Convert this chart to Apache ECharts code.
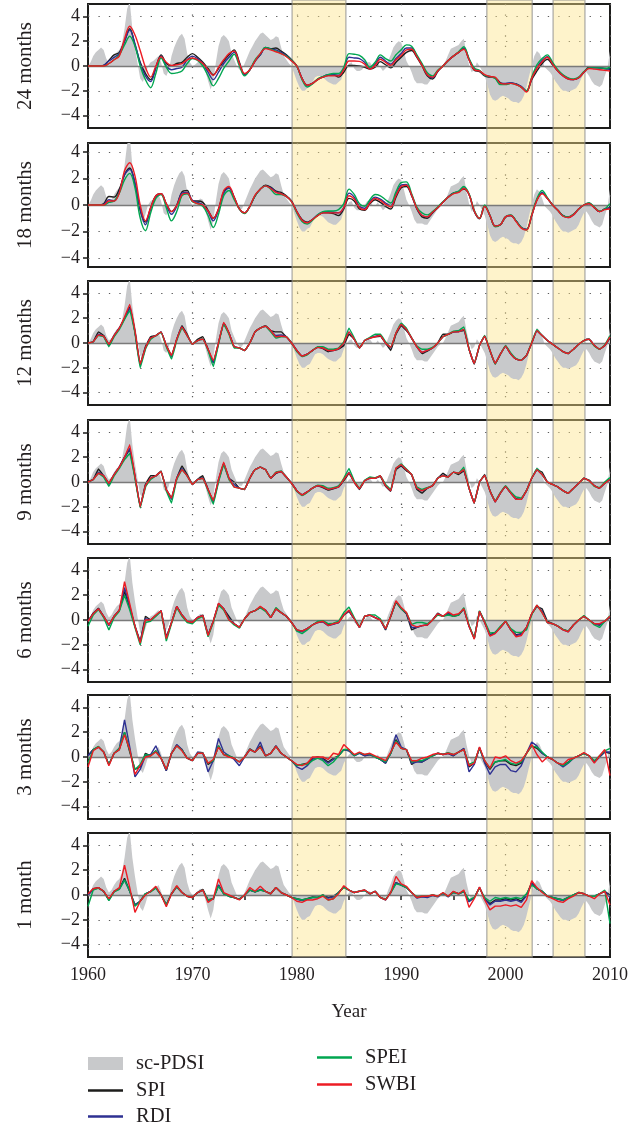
<!DOCTYPE html>
<html><head><meta charset="utf-8">
<script src="https://cdn.jsdelivr.net/npm/echarts@6/dist/echarts.min.js"></script>
<style>html,body{margin:0;padding:0;background:#fff}#c{width:643px;height:1126px}</style>
</head><body><div id="c"></div>
<script>
// ---------------- data ----------------
const START_YEAR = 1960;
const LINE_STEP = 0.5;   // lines sampled every half year
const PDSI_STEP = 0.25;  // sc-PDSI sampled every quarter year
const panelNames = ['24 months','18 months','12 months','9 months','6 months','3 months','1 month'];
const yTickValues = [-4,-2,0,2,4];
const xTickYears = [1960,1970,1980,1990,2000,2010];
const droughtBands = [[1979.55,1984.7],[1998.2,2002.55],[2004.55,2007.6]];
const seriesNames = ['SPI','RDI','SPEI','SWBI'];

const scPDSI = [
 0,0.3,0.8,1.1,1.3,1.5,1.3,0.6,0.2,0.4,0.8,1.1,1.3,1.8,3.0,4.6,5.2,3.0,1.5,0.2,
 -1.0,-1.3,-0.7,0.0,0.3,0.4,0.6,0.8,0.3,-0.6,-0.8,-0.3,0.8,1.5,2.0,2.4,2.6,2.2,1.0,0.3,
 0.0,0.1,0.3,0.5,0.4,-0.4,-1.2,-1.9,-1.2,0.3,1.6,2.3,2.5,2.3,2.0,1.0,0.5,0.0,-0.3,-0.3,
 0.2,0.7,1.2,1.6,2.0,2.3,2.6,2.7,2.5,2.3,2.1,2.2,2.4,2.3,1.5,0.8,0.5,0.2,0.0,-0.6,
 -1.2,-1.7,-2.0,-2.0,-1.8,-1.7,-1.3,-0.9,-0.8,-0.8,-0.9,-1.1,-1.3,-1.4,-1.5,-1.5,-1.3,-1.1,-0.5,-0.1,
 0.2,0.3,-0.2,-0.4,-0.4,-0.3,0.0,0.3,0.3,0.0,-0.1,0.2,-0.1,-0.4,-0.2,0.4,0.9,1.5,1.8,2.0,
 1.9,1.2,0.4,0.0,-0.5,-1.1,-1.4,-1.4,-1.4,-1.5,-1.5,-1.2,-0.9,-0.6,-0.3,-0.1,0.0,0.4,0.9,1.4,
 1.5,1.6,1.7,2.0,2.2,1.0,0.1,-0.5,-0.3,0.3,0.0,-0.4,-0.8,-1.5,-2.3,-2.7,-2.8,-2.7,-2.5,-2.4,
 -2.5,-2.6,-2.8,-2.9,-2.9,-3.0,-2.8,-2.4,-1.7,-0.8,0.0,0.8,1.2,1.0,0.5,-0.1,-0.3,-0.5,-0.8,-1.2,
 -1.5,-1.8,-2.0,-2.0,-2.1,-2.0,-1.9,-1.8,-1.5,-1.0,-0.6,-0.5,-0.8,-1.2,-1.5,-1.6,-1.7,-1.5,-0.8,-0.2,
 1.2];

// ---- 24 months ----
const spi24 = [0,0,0,0.05,0.45,0.9,1.1,2.0,3.0,1.7,
 0.3,-0.6,-1.1,-0.1,0.9,0.2,0.0,0.2,0.3,0.7,
 1.0,0.7,0.3,-0.2,-0.7,-0.2,0.4,0.9,1.3,0.3,
 -0.7,-0.3,0.4,0.9,1.5,1.4,1.45,1.2,0.9,0.5,
 0.0,-1.0,-1.55,-1.4,-1.1,-0.9,-0.75,-0.7,-0.9,-0.5,
 0.05,0.05,0.0,-0.1,-0.25,-0.1,0.35,0.1,-0.15,0.3,
 0.7,1.1,1.25,0.7,0.0,-0.8,-1.05,-0.45,0.0,0.45,
 0.8,1.1,1.4,0.5,-0.35,-0.45,-0.8,-0.9,-0.95,-1.35,
 -1.45,-1.4,-1.45,-1.7,-2.05,-1.1,-0.4,0.2,0.55,0.1,
 -0.4,-0.75,-1.0,-1.1,-0.95,-0.5,-0.1,-0.1,-0.15,-0.2,
 -0.25];
const rdi24 = [0,0,0,0.05,0.4,0.7,1.0,2.0,2.9,1.8,
 0.2,-0.8,-1.25,-0.2,0.8,0.0,-0.3,-0.2,-0.1,0.5,
 0.8,0.6,0.2,-0.5,-1.1,-0.5,0.2,0.7,1.1,0.2,
 -0.7,-0.3,0.4,0.9,1.45,1.35,1.3,1.1,0.85,0.45,
 0.0,-1.0,-1.6,-1.4,-1.05,-0.85,-0.7,-0.7,-0.75,-0.2,
 0.7,0.65,0.6,0.3,-0.2,0.15,0.7,0.4,0.15,0.6,
 1.0,1.45,1.45,0.8,0.1,-0.7,-0.95,-0.4,0.0,0.45,
 0.8,1.1,1.45,0.55,-0.25,-0.4,-0.75,-0.85,-0.95,-1.4,
 -1.4,-1.35,-1.45,-1.65,-2.0,-1.0,-0.1,0.45,0.75,0.2,
 -0.4,-0.8,-1.05,-1.1,-0.95,-0.5,-0.15,-0.15,-0.15,-0.2,
 -0.25];
const spei24 = [0,0,0,0,0.2,0.5,0.9,1.7,2.4,1.6,
 0.0,-1.1,-1.75,-0.6,0.65,-0.1,-0.6,-0.55,-0.4,0.2,
 0.6,0.45,0.0,-0.8,-1.6,-1.0,-0.2,0.4,0.95,0.0,
 -0.8,-0.3,0.5,1.0,1.5,1.35,1.2,1.0,0.8,0.45,
 0.0,-1.1,-1.7,-1.45,-1.05,-0.85,-0.7,-0.6,-0.6,-0.1,
 1.0,0.95,0.85,0.5,-0.1,0.3,0.9,0.6,0.4,0.9,
 1.3,1.7,1.6,0.9,0.2,-0.55,-0.8,-0.35,0.0,0.45,
 0.8,1.15,1.55,0.6,-0.15,-0.35,-0.75,-0.85,-1.0,-1.5,
 -1.5,-1.4,-1.5,-1.7,-2.0,-0.9,0.1,0.6,0.9,0.3,
 -0.3,-0.7,-0.95,-1.05,-0.9,-0.45,-0.15,-0.15,-0.15,-0.2,
 -0.1];
const swbi24 = [0,0,0,0,0.2,0.5,0.8,2.2,3.2,2.5,
 1.25,-0.1,-0.9,0.0,0.75,0.3,0.05,0.1,0.2,0.5,
 0.65,0.5,0.2,-0.3,-0.75,-0.1,0.5,1.0,1.2,0.2,
 -0.6,-0.3,0.4,1.0,1.4,1.3,1.15,1.0,0.75,0.4,
 0.0,-1.0,-1.55,-1.4,-1.1,-0.9,-0.8,-0.8,-0.8,-0.3,
 0.4,0.4,0.37,0.15,-0.25,0.05,0.55,0.3,0.05,0.5,
 0.85,1.3,1.35,0.75,0.05,-0.7,-0.9,-0.4,0.0,0.45,
 0.8,1.1,1.35,0.5,-0.3,-0.4,-0.7,-0.85,-0.9,-1.4,
 -1.45,-1.4,-1.5,-1.7,-2.1,-1.0,-0.2,0.35,0.7,0.15,
 -0.4,-0.8,-1.05,-1.1,-0.95,-0.5,-0.2,-0.25,-0.3,-0.35,
 -0.4];

// ---- 18 months ----
const spi18 = [0,0,0,0.1,0.65,0.6,1.2,2.3,2.8,1.6,
 -0.4,-1.3,-0.2,0.7,0.85,0.1,-0.5,0.0,1.0,1.1,
 0.3,0.3,0.2,-0.4,-1.0,-0.3,1.0,1.3,0.6,-0.3,
 -0.6,-0.1,0.7,1.2,1.5,1.35,1.05,0.95,0.7,0.3,
 -0.5,-1.1,-1.3,-1.1,-0.8,-0.6,-0.6,-0.65,-0.8,-0.3,
 0.5,0.3,-0.3,-0.4,0.1,0.4,0.2,-0.1,-0.3,0.6,
 1.3,1.4,0.7,-0.3,-0.9,-1.0,-0.6,-0.2,0.2,0.6,
 0.9,1.0,1.2,0.8,-0.5,-1.05,-0.1,-0.8,-1.6,-1.5,
 -0.9,-0.8,-1.2,-1.7,-1.85,-0.8,0.4,0.9,0.5,0.0,
 -0.4,-0.8,-0.9,-0.7,-0.3,0.0,0.15,-0.2,-0.5,-0.3,
 -0.2];
const rdi18 = [0,0,0,0.05,0.4,0.3,1.0,2.3,2.7,1.7,
 -0.3,-1.5,-0.3,0.6,0.85,0.0,-0.7,-0.1,0.9,0.95,
 0.35,0.2,0.0,-0.5,-1.2,-0.4,0.9,1.3,0.55,-0.3,
 -0.6,-0.1,0.7,1.2,1.45,1.3,1.0,0.85,0.65,0.3,
 -0.5,-1.15,-1.35,-1.1,-0.75,-0.55,-0.5,-0.55,-0.6,-0.2,
 0.9,0.6,-0.1,-0.25,0.25,0.6,0.45,0.15,-0.05,0.8,
 1.5,1.55,0.75,-0.25,-0.8,-0.9,-0.55,-0.2,0.2,0.6,
 0.9,1.0,1.3,0.8,-0.45,-1.0,-0.05,-0.8,-1.6,-1.5,
 -0.9,-0.8,-1.2,-1.7,-1.85,-0.8,0.4,0.95,0.5,0.0,
 -0.4,-0.8,-0.95,-0.75,-0.3,0.0,0.1,-0.2,-0.5,-0.3,
 -0.2];
const spei18 = [0,0,0,0,0.2,0.3,0.9,1.9,2.4,1.3,
 -1.0,-1.95,-0.6,0.5,0.8,-0.2,-1.2,-0.5,0.7,0.85,
 0.25,0.1,-0.1,-0.8,-1.7,-0.7,0.7,1.1,0.4,-0.3,
 -0.65,-0.1,0.7,1.2,1.45,1.2,0.8,0.8,0.65,0.25,
 -0.6,-1.25,-1.45,-1.15,-0.75,-0.5,-0.45,-0.45,-0.35,0.1,
 1.2,0.8,0.1,-0.1,0.4,0.8,0.7,0.4,0.15,1.0,
 1.7,1.75,0.85,-0.15,-0.6,-0.75,-0.5,-0.15,0.25,0.6,
 0.9,1.05,1.4,0.85,-0.4,-1.0,0.0,-0.8,-1.65,-1.5,
 -0.9,-0.75,-1.2,-1.7,-1.9,-0.75,0.5,1.1,0.55,0.0,
 -0.4,-0.8,-0.9,-0.7,-0.3,0.0,0.15,-0.15,-0.45,-0.3,
 0.1];
const swbi18 = [0,0,0,0,0.3,0.3,0.9,2.6,3.2,2.2,
 0.0,-1.2,-0.2,0.7,0.85,0.1,-0.5,-0.05,0.8,0.9,
 0.3,0.1,0.0,-0.45,-1.0,-0.3,1.1,1.4,0.6,-0.3,
 -0.6,-0.1,0.75,1.2,1.45,1.25,0.95,0.85,0.65,0.25,
 -0.5,-1.15,-1.35,-1.1,-0.8,-0.6,-0.6,-0.6,-0.6,-0.2,
 0.7,0.45,-0.2,-0.35,0.15,0.5,0.35,0.05,-0.15,0.7,
 1.4,1.5,0.75,-0.25,-0.8,-0.9,-0.55,-0.2,0.2,0.6,
 0.85,0.95,1.25,0.8,-0.45,-1.0,-0.1,-0.8,-1.6,-1.5,
 -0.9,-0.8,-1.25,-1.75,-1.9,-0.8,0.35,0.85,0.5,0.0,
 -0.4,-0.85,-0.95,-0.75,-0.3,0.0,0.1,-0.2,-0.5,-0.35,
 -0.3];

// ---- 12 months ----
const spi12 = [0,0.1,0.9,0.6,-0.1,0.6,1.2,2.0,2.9,0.9,
 -1.7,-0.3,0.5,0.6,0.9,-0.2,-1.0,0.3,1.4,0.7,
 -0.1,0.3,0.5,-0.5,-1.6,0.0,1.6,0.8,-0.3,-0.4,
 -0.6,0.0,0.9,1.2,1.4,1.0,0.9,0.9,0.5,0.0,
 -0.6,-1.05,-0.9,-0.6,-0.35,-0.45,-0.7,-0.6,-0.5,-0.2,
 0.7,0.3,-0.4,0.2,0.4,0.5,0.55,0.0,-0.6,0.7,
 1.4,1.0,0.4,-0.3,-0.85,-0.65,-0.4,0.0,0.7,0.7,
 0.9,0.95,1.0,-0.5,-1.7,-0.2,0.55,-0.6,-1.7,-0.9,
 -0.25,-0.9,-1.3,-1.4,-1.0,0.0,1.0,0.6,0.2,-0.1,
 -0.4,-0.7,-0.85,-0.5,-0.1,0.2,0.3,-0.2,-0.5,-0.2,
 0.4];
const rdi12 = [0,0.1,0.7,0.55,-0.2,0.6,1.2,2.0,2.8,0.9,
 -1.8,-0.4,0.4,0.6,0.9,-0.2,-1.1,0.3,1.3,0.6,
 -0.1,0.2,0.3,-0.5,-1.6,0.0,1.6,0.8,-0.3,-0.4,
 -0.6,0.0,0.9,1.2,1.35,1.0,0.6,0.65,0.5,0.0,
 -0.6,-1.05,-0.9,-0.6,-0.35,-0.4,-0.6,-0.6,-0.45,0.0,
 0.9,0.3,-0.4,0.2,0.4,0.55,0.6,0.0,-0.4,0.8,
 1.5,1.1,0.4,-0.3,-0.75,-0.6,-0.4,0.0,0.5,0.7,
 0.9,0.9,1.1,-0.5,-1.65,-0.2,0.55,-0.6,-1.65,-0.9,
 -0.25,-0.9,-1.3,-1.4,-1.0,0.0,1.0,0.6,0.2,-0.1,
 -0.4,-0.7,-0.85,-0.5,-0.1,0.2,0.3,-0.2,-0.5,-0.2,
 0.5];
const spei12 = [0,0.1,0.6,0.5,-0.3,0.5,1.1,1.9,2.6,0.8,
 -2.0,-0.5,0.3,0.6,0.85,-0.3,-1.3,0.2,1.2,0.6,
 -0.1,0.2,0.3,-0.6,-1.9,-0.1,1.5,0.7,-0.4,-0.4,
 -0.6,0.0,0.9,1.2,1.35,0.9,0.4,0.5,0.5,0.0,
 -0.7,-1.1,-0.95,-0.6,-0.3,-0.3,-0.5,-0.5,-0.4,0.1,
 1.2,0.4,-0.4,0.2,0.45,0.7,0.7,0.1,-0.35,0.8,
 1.6,1.2,0.4,-0.25,-0.5,-0.5,-0.35,0.0,0.5,0.7,
 0.95,1.0,1.3,-0.5,-1.65,-0.2,0.6,-0.6,-1.7,-0.9,
 -0.2,-0.8,-1.25,-1.4,-1.0,0.05,1.1,0.6,0.2,-0.1,
 -0.4,-0.7,-0.85,-0.5,-0.1,0.2,0.3,-0.25,-0.5,-0.15,
 0.6];
const swbi12 = [0,0.1,0.65,0.55,-0.1,0.6,1.2,2.1,3.1,1.0,
 -1.7,-0.4,0.4,0.6,0.9,-0.2,-1.0,0.3,1.3,0.6,
 -0.1,0.2,0.3,-0.5,-1.4,0.0,1.65,0.8,-0.3,-0.4,
 -0.6,0.0,0.9,1.2,1.35,1.0,0.5,0.55,0.5,0.0,
 -0.6,-1.05,-0.9,-0.6,-0.35,-0.4,-0.6,-0.6,-0.45,0.0,
 0.9,0.3,-0.4,0.2,0.4,0.5,0.6,0.0,-0.35,0.8,
 1.5,1.1,0.4,-0.3,-0.75,-0.6,-0.4,0.0,0.5,0.7,
 0.9,0.9,1.1,-0.5,-1.65,-0.2,0.55,-0.6,-1.65,-0.9,
 -0.25,-0.9,-1.3,-1.4,-1.0,0.0,1.0,0.6,0.2,-0.1,
 -0.4,-0.7,-0.85,-0.5,-0.1,0.2,0.3,-0.2,-0.5,-0.2,
 0.5];

// ---- 9 months ----
const spi9 = [0,0.2,1.05,0.5,-0.1,0.6,1.2,2.0,2.6,0.4,
 -2.0,-0.2,0.5,0.5,0.9,-0.6,-1.3,0.3,1.3,0.6,
 -0.2,0.2,0.5,-0.6,-1.6,0.1,1.5,0.3,0.0,-0.5,
 -0.6,0.3,1.0,1.2,1.0,0.3,0.7,0.85,0.4,-0.1,
 -0.7,-1.05,-0.8,-0.5,-0.3,-0.45,-0.65,-0.55,-0.4,0.1,
 0.7,0.0,-0.6,0.1,0.35,0.3,0.45,-0.35,-0.75,1.0,
 1.3,0.9,0.6,-0.6,-0.9,-0.5,-0.3,0.3,0.7,0.4,
 0.8,0.6,0.9,-0.5,-1.7,0.0,0.6,-0.7,-1.6,-0.9,
 -0.35,-0.9,-1.35,-1.4,-0.7,0.3,1.0,0.8,0.0,-0.2,
 -0.4,-0.7,-0.9,-0.5,-0.1,0.3,0.15,-0.3,-0.5,-0.1,
 0.2];
const rdi9 = [0,0.2,0.8,0.5,-0.2,0.6,1.2,2.0,2.7,0.5,
 -2.0,-0.3,0.3,0.5,0.85,-0.6,-1.4,0.3,1.1,0.5,
 -0.2,0.2,0.35,-0.6,-1.6,0.2,1.5,0.3,-0.2,-0.5,
 -0.6,0.3,1.0,1.2,1.0,0.3,0.75,0.85,0.4,-0.1,
 -0.7,-1.05,-0.8,-0.5,-0.3,-0.4,-0.6,-0.5,-0.4,0.2,
 0.8,0.0,-0.55,0.1,0.3,0.3,0.5,-0.3,-0.7,1.1,
 1.35,1.0,0.6,-0.5,-0.7,-0.5,-0.3,0.3,0.55,0.4,
 0.8,0.7,1.0,-0.5,-1.7,0.0,0.55,-0.7,-1.6,-0.9,
 -0.35,-0.9,-1.4,-1.4,-0.7,0.3,1.0,0.6,0.0,-0.2,
 -0.4,-0.7,-0.9,-0.5,-0.1,0.3,0.1,-0.3,-0.5,-0.1,
 0.2];
const spei9 = [0,0.2,0.7,0.4,-0.35,0.5,1.1,1.8,2.3,0.3,
 -2.1,-0.4,0.2,0.5,0.85,-0.7,-1.7,0.2,1.0,0.5,
 -0.2,0.2,0.3,-0.7,-1.8,0.0,1.4,0.2,-0.4,-0.5,
 -0.6,0.3,1.0,1.2,1.0,0.3,0.8,0.9,0.4,-0.1,
 -0.75,-1.1,-0.85,-0.5,-0.25,-0.3,-0.5,-0.45,-0.3,0.3,
 1.1,0.1,-0.5,0.15,0.4,0.35,0.5,-0.2,-0.6,1.1,
 1.45,1.05,0.6,-0.4,-0.6,-0.45,-0.3,0.3,0.5,0.4,
 0.8,0.7,1.2,-0.5,-1.7,0.0,0.55,-0.7,-1.55,-0.85,
 -0.3,-0.8,-1.2,-1.3,-0.7,0.3,1.1,0.6,0.0,-0.2,
 -0.4,-0.7,-0.9,-0.5,-0.1,0.3,0.1,-0.35,-0.45,0.0,
 0.35];
const swbi9 = [0,0.2,0.7,0.5,-0.1,0.6,1.2,2.0,3.0,0.5,
 -2.0,-0.3,0.3,0.5,0.85,-0.6,-1.3,0.3,1.0,0.5,
 -0.2,0.2,0.3,-0.6,-1.5,0.2,1.6,0.3,-0.4,-0.5,
 -0.6,0.3,1.0,1.2,1.0,0.3,0.75,0.85,0.4,-0.1,
 -0.7,-1.05,-0.8,-0.5,-0.3,-0.4,-0.6,-0.5,-0.4,0.2,
 0.75,0.0,-0.55,0.1,0.3,0.3,0.5,-0.3,-0.7,1.1,
 1.4,1.0,0.6,-0.5,-0.7,-0.5,-0.3,0.3,0.5,0.4,
 0.8,0.7,1.0,-0.5,-1.7,0.0,0.55,-0.7,-1.6,-0.9,
 -0.35,-0.9,-1.4,-1.4,-0.7,0.3,1.0,0.6,0.0,-0.2,
 -0.4,-0.7,-0.9,-0.5,-0.1,0.3,0.1,-0.3,-0.5,-0.1,
 0.2];

// ---- 6 months ----
const spi6 = [-0.1,0.55,0.95,0.3,-0.4,0.3,0.8,2.3,1.0,-0.5,
 -1.75,0.3,0.0,0.35,0.75,-1.4,-0.2,1.1,0.4,-0.1,
 -0.2,0.2,0.4,-1.2,-0.1,1.3,0.9,0.3,-0.3,-0.6,
 0.1,0.6,0.75,1.0,0.8,0.2,0.9,0.6,0.3,-0.2,
 -0.8,-0.9,-0.7,-0.4,-0.2,-0.1,-0.4,-0.3,-0.2,0.4,
 0.7,0.1,-0.6,0.3,0.4,0.2,0.0,-0.8,0.3,1.45,
 0.9,0.5,-0.8,-0.6,-0.45,-0.4,0.0,0.55,0.3,0.5,
 0.3,0.4,0.9,-0.5,-1.45,0.7,-0.2,-1.2,-1.0,-0.6,
 -0.1,-0.8,-1.2,-1.1,-0.6,0.5,1.1,0.9,-0.1,-0.3,
 -0.5,-0.75,-0.9,-0.4,0.0,0.3,0.0,-0.3,-0.4,-0.1,
 0.2];
const rdi6 = [-0.1,0.5,0.9,0.3,-0.45,0.3,0.8,2.6,1.1,-0.5,
 -1.8,0.1,0.0,0.35,0.75,-1.45,-0.2,1.1,0.4,-0.1,
 -0.2,0.2,0.35,-1.25,-0.1,1.3,0.9,0.1,-0.3,-0.6,
 0.1,0.6,0.75,1.05,0.8,0.2,0.9,0.6,0.3,-0.2,
 -0.85,-0.95,-0.7,-0.4,-0.2,-0.15,-0.45,-0.35,-0.2,0.4,
 0.75,0.1,-0.6,0.3,0.4,0.2,0.0,-0.75,0.3,1.5,
 0.95,0.55,-0.6,-0.6,-0.45,-0.4,0.0,0.5,0.3,0.55,
 0.35,0.45,0.9,-0.5,-1.5,0.7,-0.2,-1.25,-1.05,-0.6,
 -0.1,-0.8,-1.25,-1.15,-0.65,0.5,1.15,0.7,-0.2,-0.3,
 -0.5,-0.8,-0.95,-0.4,0.0,0.3,0.0,-0.3,-0.4,-0.1,
 0.25];
const spei6 = [-0.5,0.4,0.85,0.2,-0.8,0.2,0.7,2.0,0.8,-0.6,
 -2.0,-0.2,-0.1,0.3,0.7,-1.7,-0.3,1.0,0.3,-0.2,
 -0.3,0.1,0.3,-1.35,-0.2,1.2,0.8,0.0,-0.4,-0.65,
 0.1,0.6,0.75,1.0,0.7,0.2,1.0,0.6,0.3,-0.2,
 -0.9,-1.1,-0.8,-0.4,-0.1,-0.05,-0.3,-0.25,-0.1,0.6,
 1.05,0.2,-0.55,0.3,0.4,0.4,0.1,-0.7,0.3,1.5,
 0.9,0.6,-0.35,-0.2,-0.2,-0.3,0.0,0.4,0.3,0.4,
 0.3,0.4,1.0,-0.4,-1.5,0.75,-0.1,-1.05,-1.0,-0.5,
 -0.1,-0.7,-1.0,-1.0,-0.8,0.4,1.2,0.6,-0.2,-0.3,
 -0.5,-0.75,-0.9,-0.4,0.0,0.35,0.0,-0.4,-0.6,-0.1,
 0.35];
const swbi6 = [-0.1,0.5,0.9,0.3,-0.4,0.3,0.8,3.1,1.3,-0.5,
 -1.85,0.0,0.0,0.4,0.75,-1.5,-0.2,1.1,0.4,-0.1,
 -0.2,0.2,0.35,-1.25,-0.1,1.35,0.9,0.0,-0.3,-0.6,
 0.1,0.6,0.75,1.1,0.8,0.2,0.9,0.6,0.3,-0.2,
 -0.8,-0.9,-0.7,-0.4,-0.2,-0.1,-0.45,-0.3,-0.2,0.4,
 0.8,0.1,-0.6,0.3,0.4,0.2,0.0,-0.7,0.3,1.55,
 1.0,0.6,-0.4,-0.55,-0.45,-0.4,0.0,0.5,0.3,0.65,
 0.4,0.5,0.9,-0.5,-1.55,0.7,-0.2,-1.3,-1.1,-0.6,
 -0.1,-0.8,-1.35,-1.25,-0.6,0.5,1.2,0.6,-0.2,-0.3,
 -0.5,-0.8,-0.95,-0.4,0.0,0.3,0.0,-0.3,-0.3,-0.1,
 0.3];

// ---- 3 months ----
const spi3 = [0.1,0.6,0.8,0.4,-0.6,0.3,0.6,2.0,0.4,-1.0,
 -0.8,0.3,0.1,0.5,-0.1,-1.1,0.3,0.95,0.6,-0.1,
 -0.3,0.3,0.35,-0.6,-0.3,0.9,0.2,0.1,-0.1,-0.4,
 0.0,0.65,0.4,0.9,0.1,0.3,0.9,0.3,0.0,-0.3,
 -0.7,-0.6,-0.5,-0.1,0.0,-0.1,-0.4,-0.1,0.1,0.6,
 0.5,0.1,0.35,0.1,0.2,0.0,-0.2,-0.5,0.3,1.4,
 0.7,0.6,-0.6,-0.3,-0.4,-0.15,0.1,0.3,0.2,0.3,
 0.1,0.4,0.65,-0.8,-0.5,0.75,-0.4,-1.0,-0.4,-0.3,
 -0.3,-0.6,-0.7,-0.5,0.3,0.9,0.7,0.3,0.0,-0.2,
 -0.5,-0.7,-0.4,-0.1,0.1,0.3,0.1,-0.4,0.0,0.4,
 0.3];
const rdi3 = [0.1,0.6,0.8,0.4,-0.6,0.3,0.7,3.0,0.8,-1.6,
 -1.0,0.1,0.2,0.9,-0.1,-1.1,0.3,1.0,0.6,-0.1,
 -0.3,0.4,0.3,-1.2,-0.3,1.5,0.4,0.1,-0.2,-0.7,
 0.0,0.6,0.4,1.2,0.1,0.3,0.9,0.3,0.0,-0.3,
 -0.8,-1.0,-0.7,-0.2,0.0,-0.2,-0.5,-0.2,0.1,0.6,
 0.5,0.1,0.3,0.1,0.2,0.0,-0.2,-0.5,0.3,1.8,
 0.8,0.6,-0.5,-0.4,-0.4,-0.15,0.1,0.3,0.2,0.3,
 0.1,0.4,0.7,-1.2,-0.6,0.75,-0.5,-1.4,-0.8,-0.6,
 -0.6,-1.1,-1.2,-0.7,0.3,1.2,0.9,0.3,0.0,-0.2,
 -0.5,-0.8,-0.5,-0.1,0.1,0.3,0.1,-0.4,0.0,0.4,
 0.4];
const spei3 = [-0.5,0.6,0.85,0.4,-0.6,0.3,0.7,2.0,0.5,-1.0,
 -0.6,0.2,0.1,0.5,-0.1,-1.0,0.3,0.9,0.55,-0.1,
 -0.3,0.3,0.3,-0.5,-0.3,0.9,0.2,0.1,-0.1,-0.4,
 0.0,0.6,0.4,0.8,0.1,0.3,0.85,0.3,0.0,-0.3,
 -0.7,-0.6,-0.6,-0.3,-0.1,-0.3,-0.7,-0.4,0.1,0.6,
 0.6,0.1,0.35,0.2,0.25,0.0,-0.2,-0.4,0.3,1.3,
 0.7,0.6,-0.4,-0.3,-0.3,-0.1,0.1,0.3,0.2,0.35,
 0.2,0.4,0.6,-0.6,-0.4,0.7,-0.3,-0.9,-0.4,-0.3,
 -0.2,-0.5,-0.6,-0.4,0.3,0.9,0.8,0.4,0.0,-0.2,
 -0.5,-0.7,-0.45,-0.1,0.1,0.3,0.1,-0.3,0.1,0.5,
 0.7];
const swbi3 = [-0.8,0.5,0.8,0.4,-0.7,0.3,0.6,1.8,0.6,-1.4,
 -0.7,0.0,0.1,0.4,-0.1,-1.0,0.3,0.9,0.5,-0.1,
 -0.3,0.3,0.3,-0.5,-0.2,0.8,0.2,0.0,-0.1,-0.4,
 0.0,0.6,0.4,0.8,0.1,0.3,0.85,0.3,0.0,-0.3,
 -0.6,-0.7,-0.5,0.0,0.0,0.0,-0.2,0.3,0.2,1.0,
 0.6,0.2,0.4,0.2,0.3,0.1,-0.1,-0.3,0.4,1.2,
 0.7,0.6,-0.3,-0.3,-0.1,0.0,0.2,0.3,0.2,0.3,
 0.2,0.4,0.6,-0.7,-0.5,0.8,-0.3,-0.9,0.0,-0.1,
 0.1,-0.3,-0.5,-0.3,0.3,1.0,0.2,-0.4,0.0,-0.2,
 -0.5,-0.6,-0.2,-0.1,0.1,0.35,0.1,-0.5,0.1,0.6,
 -1.5];

// ---- 1 month ----
const spi1 = [0.0,0.5,0.6,0.3,-0.4,0.3,0.5,1.35,0.3,-0.8,
 -0.5,0.1,0.3,0.6,0.0,-0.8,0.1,0.7,0.2,-0.1,
 -0.2,0.2,0.45,-0.4,-0.3,0.8,0.1,-0.1,-0.2,-0.35,
 0.0,0.4,0.25,0.4,0.3,0.1,0.6,0.2,0.0,-0.2,
 -0.3,-0.4,-0.3,-0.15,-0.2,0.0,-0.2,-0.1,0.2,0.65,
 0.4,0.2,0.3,0.4,0.1,0.3,-0.2,-0.4,0.2,1.0,
 0.8,0.6,0.2,-0.2,-0.1,-0.15,0.0,-0.1,0.15,-0.1,
 0.25,0.1,0.3,-0.5,-0.2,0.6,-0.3,-0.7,-0.4,-0.4,
 -0.3,-0.4,-0.3,-0.5,0.0,1.0,0.5,0.3,-0.1,-0.2,
 -0.3,-0.4,-0.2,0.0,0.2,0.1,-0.1,-0.1,0.1,0.3,
 0.0];
const rdi1 = [0.0,0.45,0.55,0.3,-0.4,0.3,0.5,1.2,0.3,-0.8,
 -0.5,0.1,0.3,0.6,0.0,-0.8,0.1,0.65,0.2,-0.1,
 -0.2,0.2,0.4,-0.45,-0.3,0.8,0.1,-0.1,-0.2,-0.35,
 0.0,0.4,0.25,0.45,0.3,0.1,0.6,0.2,0.0,-0.2,
 -0.35,-0.45,-0.35,-0.2,-0.2,-0.05,-0.25,-0.15,0.2,0.65,
 0.4,0.2,0.3,0.35,0.1,0.3,-0.2,-0.4,0.2,1.0,
 0.8,0.6,0.2,-0.25,-0.15,-0.2,-0.05,-0.15,0.1,-0.15,
 0.2,0.1,0.3,-0.55,-0.2,0.6,-0.35,-0.8,-0.5,-0.5,
 -0.4,-0.5,-0.4,-0.6,-0.05,0.95,0.5,0.3,-0.1,-0.2,
 -0.35,-0.45,-0.25,0.0,0.2,0.1,-0.1,-0.1,0.1,0.3,
 -0.2];
const spei1 = [-0.9,0.4,0.55,0.3,-0.45,0.25,0.45,1.2,0.3,-0.9,
 -0.5,0.1,0.25,0.55,0.0,-0.8,0.1,0.65,0.2,-0.1,
 -0.2,0.2,0.4,-0.4,-0.3,0.7,0.1,-0.1,-0.2,-0.35,
 0.0,0.4,0.25,0.4,0.3,0.1,0.6,0.2,0.0,-0.2,
 -0.3,-0.4,-0.3,-0.2,-0.2,0.0,-0.4,-0.3,0.2,0.6,
 0.4,0.2,0.3,0.35,0.1,0.3,-0.2,-0.35,0.2,0.9,
 0.8,0.6,0.2,-0.15,-0.1,-0.1,0.0,-0.1,0.15,-0.1,
 0.2,0.1,0.3,-0.4,-0.2,0.55,-0.2,-0.5,-0.2,-0.3,
 -0.2,-0.3,-0.2,-0.3,0.1,0.8,0.5,0.3,-0.1,-0.2,
 -0.3,-0.4,-0.2,0.0,0.2,0.1,-0.1,-0.1,0.1,0.4,
 -2.3];
const swbi1 = [0.1,0.5,0.6,0.3,-0.3,0.3,0.6,2.4,0.6,-1.4,
 -0.5,0.0,0.3,0.7,0.0,-0.95,0.1,0.75,0.2,-0.1,
 -0.2,0.2,0.4,-0.6,-0.3,1.3,0.2,0.0,-0.2,-0.4,
 0.0,0.6,0.3,0.7,0.3,0.1,0.6,0.2,0.0,-0.2,
 -0.5,-0.6,-0.4,-0.4,-0.3,-0.1,-0.4,-0.3,0.1,0.75,
 0.4,0.2,0.3,0.4,0.1,0.3,-0.2,-0.4,0.2,1.5,
 0.9,0.7,0.2,-0.2,-0.1,-0.1,0.0,-0.1,0.2,-0.1,
 0.3,0.1,0.4,-1.0,-0.3,0.65,-0.4,-1.2,-0.9,-0.9,
 -0.8,-0.9,-0.8,-1.0,-0.4,1.15,0.6,0.2,-0.1,-0.3,
 -0.5,-0.6,-0.3,-0.1,0.2,0.1,-0.1,-0.3,0.1,0.3,
 -0.8];

const panelSeries = [
  [spi24, rdi24, spei24, swbi24],
  [spi18, rdi18, spei18, swbi18],
  [spi12, rdi12, spei12, swbi12],
  [spi9, rdi9, spei9, swbi9],
  [spi6, rdi6, spei6, swbi6],
  [spi3, rdi3, spei3, swbi3],
  [spi1, rdi1, spei1, swbi1]
];

// ---------------- layout & style ----------------
const FONT = "'Liberation Serif','DejaVu Serif',serif";
const TXT = '#231f20';
const colors = {SPI:'#1d1d1b', RDI:'#2e3192', SPEI:'#00a650', SWBI:'#ed1c24'};
const GRAY = '#c8c9cb';
const panelTops = [4,143,281,420,558,695,833];
const panelH = 124;
const panelRange = [[-5,5],[-4.7,4.7],[-5,5],[-5,5],[-5,5],[-5,5],[-5,5]];
const smoothness = [0.35,0.35,0.1,0.05,0,0,0];
const GL = 88, GW = 522;
const dotted = {type:[1.3,9.15], color:'#5a5a5a', width:1.2};
const tickLine = {color:'#1d1d1b', width:1.5};

const toPairs = (arr, step) => arr.map((v, i) => [START_YEAR + step * i, v]);
const pdsiPairs = toPairs(scPDSI, PDSI_STEP);
const minusFmt = v => (v < 0 ? '\u2212' + (-v) : String(v));

const grids = [], xAxes = [], yAxes = [], series = [];
panelNames.forEach((nm, p) => {
  const last = p === panelNames.length - 1;
  grids.push({left: GL, width: GW, top: panelTops[p], height: panelH, show: true,
    borderColor: '#1d1d1b', borderWidth: 2, backgroundColor: 'transparent', z: 0});
  xAxes.push({gridIndex: p, type: 'value', min: xTickYears[0], max: xTickYears[xTickYears.length-1], interval: 10,
    axisLine: {show: false},
    axisTick: {show: last, length: 5, lineStyle: tickLine},
    minorTick: {show: last, splitNumber: 2, length: 5, lineStyle: tickLine},
    axisLabel: {show: last, fontFamily: FONT, fontSize: 18, color: TXT, margin: 9, formatter: v => String(v)},
    splitLine: {show: true, lineStyle: dotted},
    name: last ? 'Year' : '', nameLocation: 'middle', nameGap: 46,
    nameTextStyle: {fontFamily: FONT, fontSize: 19, color: TXT}});
  yAxes.push({gridIndex: p, type: 'value', min: panelRange[p][0], max: panelRange[p][1],
    name: nm, nameLocation: 'middle', nameGap: 52, nameRotate: 90,
    nameTextStyle: {fontFamily: FONT, fontSize: 21, color: TXT},
    axisLine: {show: false},
    axisTick: {show: true, length: 5, lineStyle: tickLine, customValues: yTickValues},
    axisLabel: {fontFamily: FONT, fontSize: 18, color: TXT, margin: 8, customValues: yTickValues, formatter: minusFmt},
    splitLine: {show: true, lineStyle: dotted}});
  series.push({type: 'line', name: 'sc-PDSI', xAxisIndex: p, yAxisIndex: p, data: pdsiPairs,
    symbol: 'none', silent: true, z: 1, lineStyle: {width: 0}, itemStyle: {color: GRAY},
    areaStyle: {color: GRAY, opacity: 1},
    markLine: {silent: true, symbol: 'none', label: {show: false}, animation: false,
      lineStyle: {color: '#7a7a7a', width: 1.3, type: 'solid'}, data: [{yAxis: 0}]}});
  seriesNames.forEach((sn, k) => {
    series.push({type: 'line', name: sn, xAxisIndex: p, yAxisIndex: p,
      data: toPairs(panelSeries[p][k], LINE_STEP), symbol: 'none', silent: true,
      smooth: smoothness[p] || false, z: 3 + k,
      lineStyle: {color: colors[sn], width: 1.4}, itemStyle: {color: colors[sn]}});
  });
});

// overlay grid for drought bands spanning all panels
const OV = panelNames.length;
grids.push({left: GL, width: GW, top: 0, height: panelTops[OV-1] + panelH, show: false});
xAxes.push({gridIndex: OV, type: 'value', min: 1960, max: 2010, show: false});
yAxes.push({gridIndex: OV, type: 'value', min: 0, max: 1, show: false});
series.push({type: 'line', name: 'bands', xAxisIndex: OV, yAxisIndex: OV, data: [[1960, 0.5]],
  symbol: 'none', silent: true, z: 10, lineStyle: {width: 0},
  markArea: {silent: true, animation: false,
    itemStyle: {color: 'rgba(252,228,140,0.45)', borderColor: 'rgba(140,140,140,0.6)', borderWidth: 1.5},
    data: droughtBands.map(b => [{xAxis: b[0]}, {xAxis: b[1]}])}});

// legend: one component per entry so each icon can be shaped like the reference
const legendText = {fontFamily: FONT, fontSize: 20.5, color: TXT, padding: [0,0,0,8]};
const legendEntries = [
  {name: 'sc-PDSI', left: 88, cy: 1062, h: 13, color: GRAY},
  {name: 'SPI', left: 88, cy: 1089, h: 2.4, color: colors.SPI},
  {name: 'RDI', left: 88, cy: 1115, h: 2.4, color: colors.RDI},
  {name: 'SPEI', left: 317, cy: 1056, h: 2.4, color: colors.SPEI},
  {name: 'SWBI', left: 317, cy: 1083, h: 2.4, color: colors.SWBI}
];
const legends = legendEntries.map(e => ({
  left: e.left, top: e.cy - 9, orient: 'horizontal', itemWidth: 35, itemHeight: e.h,
  selectedMode: false, textStyle: legendText, padding: [0,0,0,0],
  data: [{name: e.name, icon: 'rect', itemStyle: {color: e.color, borderWidth: 0}}]
}));

const option = {
  animation: false,
  backgroundColor: '#ffffff',
  grid: grids, xAxis: xAxes, yAxis: yAxes, series: series,
  legend: legends
};
const chart = echarts.init(document.getElementById('c'), null, {renderer: 'canvas'});
chart.setOption(option);
</script></body></html>
